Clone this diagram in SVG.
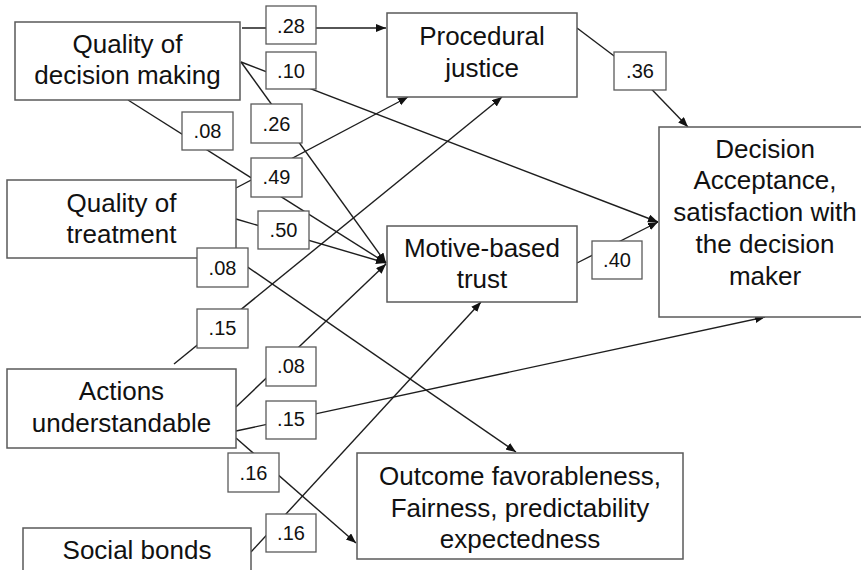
<svg xmlns="http://www.w3.org/2000/svg" width="861" height="570" viewBox="0 0 861 570">
  <style>
    .node { fill: #ffffff; stroke: #5a5a5a; stroke-width: 1.5; }
    .tag { fill: #ffffff; stroke: #5a5a5a; stroke-width: 1.3; }
    .edge { fill: none; stroke: #1e1e1e; stroke-width: 1.4; }
    .txt { font-family: "Liberation Sans", Arial, sans-serif; font-size: 26px; fill: #111111; text-anchor: middle; }
    .num { font-family: "Liberation Sans", Arial, sans-serif; font-size: 20px; fill: #111111; text-anchor: middle; }
  </style>
  <defs>
    <marker id="arrow" markerUnits="userSpaceOnUse" markerWidth="12" markerHeight="10" refX="10" refY="4" orient="auto">
      <path d="M0,0 L10,4 L0,8 Z" fill="#111111"/>
    </marker>
  </defs>
  <rect width="861" height="570" fill="#ffffff"/>

  <!-- path coefficients -->
  <g id="connectors">
    <line class="edge" x1="242" y1="28" x2="386" y2="28" marker-end="url(#arrow)"/>
    <line class="edge" x1="241" y1="62" x2="658" y2="222" marker-end="url(#arrow)"/>
    <line class="edge" x1="241" y1="62" x2="386" y2="263" marker-end="url(#arrow)"/>
    <line class="edge" x1="128" y1="100" x2="386" y2="263" marker-end="url(#arrow)"/>
    <line class="edge" x1="236" y1="188" x2="408" y2="97" marker-end="url(#arrow)"/>
    <line class="edge" x1="236" y1="219" x2="386" y2="263" marker-end="url(#arrow)"/>
    <line class="edge" x1="236" y1="259" x2="516" y2="452" marker-end="url(#arrow)"/>
    <line class="edge" x1="174" y1="364" x2="502" y2="97" marker-end="url(#arrow)"/>
    <line class="edge" x1="236" y1="407" x2="386" y2="264" marker-end="url(#arrow)"/>
    <line class="edge" x1="236" y1="431" x2="765" y2="317" marker-end="url(#arrow)"/>
    <line class="edge" x1="236" y1="438" x2="356" y2="543" marker-end="url(#arrow)"/>
    <line class="edge" x1="251" y1="552" x2="481" y2="302" marker-end="url(#arrow)"/>
    <path class="edge" d="M577,28 L634,71" stroke-width="0.9"/>
    <path class="edge" d="M634,71 L688,127" marker-end="url(#arrow)"/>
    <line class="edge" x1="577" y1="263" x2="658" y2="222" marker-end="url(#arrow)"/>
  </g>

  <!-- variables -->
  <g id="quality-decision">
    <rect class="node" x="15" y="22" width="225" height="78"/>
    <text class="txt" x="127.5" y="53">Quality of</text>
    <text class="txt" x="127.5" y="84">decision making</text>
  </g>
  <g id="quality-treatment">
    <rect class="node" x="7" y="180" width="229" height="78"/>
    <text class="txt" x="121.5" y="212">Quality of</text>
    <text class="txt" x="121.5" y="243">treatment</text>
  </g>
  <g id="actions">
    <rect class="node" x="7" y="369" width="229" height="79"/>
    <text class="txt" x="121.5" y="400">Actions</text>
    <text class="txt" x="121.5" y="432">understandable</text>
  </g>
  <g id="social-bonds">
    <rect class="node" x="23" y="528" width="228" height="60"/>
    <text class="txt" x="137" y="559">Social bonds</text>
  </g>
  <g id="procedural-justice">
    <rect class="node" x="387" y="13" width="190" height="84"/>
    <text class="txt" x="482" y="45">Procedural</text>
    <text class="txt" x="482" y="77">justice</text>
  </g>
  <g id="motive-trust">
    <rect class="node" x="387" y="226" width="190" height="76"/>
    <text class="txt" x="482" y="257">Motive-based</text>
    <text class="txt" x="482" y="288">trust</text>
  </g>
  <g id="outcome">
    <rect class="node" x="357" y="453" width="326" height="106"/>
    <text class="txt" x="520" y="485">Outcome favorableness,</text>
    <text class="txt" x="520" y="517">Fairness, predictability</text>
    <text class="txt" x="520" y="548">expectedness</text>
  </g>
  <g id="decision-acceptance">
    <rect class="node" x="659" y="127" width="230" height="190"/>
    <text class="txt" x="765" y="158">Decision</text>
    <text class="txt" x="765" y="189">Acceptance,</text>
    <text class="txt" x="765" y="221">satisfaction with</text>
    <text class="txt" x="765" y="253">the decision</text>
    <text class="txt" x="765" y="285">maker</text>
  </g>

  <!-- coefficient labels -->
  <g id="labels">
    <rect class="tag" x="266" y="6" width="50" height="38"/><text class="num" x="291" y="33">.28</text>
    <rect class="tag" x="266" y="52" width="50" height="37"/><text class="num" x="291" y="78">.10</text>
    <rect class="tag" x="251" y="104" width="51" height="39"/><text class="num" x="276.5" y="131">.26</text>
    <rect class="tag" x="182" y="112" width="51" height="38"/><text class="num" x="207.5" y="138">.08</text>
    <rect class="tag" x="251" y="158" width="51" height="39"/><text class="num" x="276.5" y="184">.49</text>
    <rect class="tag" x="258" y="211" width="51" height="38"/><text class="num" x="283.5" y="237">.50</text>
    <rect class="tag" x="197" y="248" width="51" height="39"/><text class="num" x="222.5" y="275">.08</text>
    <rect class="tag" x="197" y="309" width="51" height="39"/><text class="num" x="222.5" y="335">.15</text>
    <rect class="tag" x="266" y="347" width="50" height="39"/><text class="num" x="291" y="373">.08</text>
    <rect class="tag" x="266" y="401" width="50" height="38"/><text class="num" x="291" y="426">.15</text>
    <rect class="tag" x="228" y="453" width="51" height="39"/><text class="num" x="253.5" y="480">.16</text>
    <rect class="tag" x="266" y="514" width="50" height="38"/><text class="num" x="291" y="540">.16</text>
    <rect class="tag" x="614" y="52" width="52" height="38"/><text class="num" x="640" y="78">.36</text>
    <rect class="tag" x="592" y="241" width="50" height="38"/><text class="num" x="617" y="267">.40</text>
  </g>
</svg>
